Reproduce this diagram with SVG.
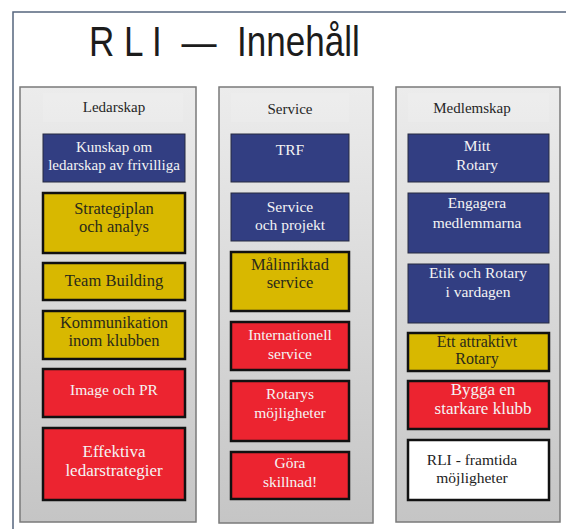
<svg xmlns="http://www.w3.org/2000/svg" width="566" height="529" viewBox="0 0 566 529">
<defs>
<linearGradient id="colg" x1="0" y1="0" x2="0" y2="1">
<stop offset="0" stop-color="#ececec"/>
<stop offset="1" stop-color="#c5c5c5"/>
</linearGradient>
<style>
.col{fill:url(#colg);stroke:#7a7a7a;stroke-width:1.5}
.hdr{fill:#f2f2f2;opacity:0.35}
.ct{font-family:"Liberation Serif","Times New Roman",serif;font-size:15px;fill:#262626;text-anchor:middle}
.blue{fill:#323e82;stroke:#262a40;stroke-width:1}
.yel{fill:#d8b800;stroke:#111;stroke-width:2.5}
.red{fill:#ec2430;stroke:#111;stroke-width:2.5}
.wht{fill:#ffffff;stroke:#111;stroke-width:2.5}
.t{font-family:"Liberation Serif","Times New Roman",serif;text-anchor:middle}
.tw{fill:#f4f4f4;font-size:15.5px}
.tk{fill:#2a2a1a;font-size:16.5px}
.tb{fill:#222;font-size:15.5px}
.title{font-family:"Liberation Sans",Arial,sans-serif;font-size:42px;fill:#1c1c1c}
</style>
</defs>
<rect x="13" y="12" width="570" height="530" fill="#ffffff" stroke="#56657e" stroke-width="1.5"/>
<text class="title" transform="translate(0,56) scale(0.835,1)"><tspan x="106.6" y="0">R L I</tspan><tspan x="217.4" y="0">—</tspan><tspan x="283.8" y="0">Innehåll</tspan></text>

<g id="col-ledarskap">
<rect class="col" x="20" y="87" width="176" height="435"/>
<rect class="hdr" x="43" y="93" width="140" height="29"/>
<text class="ct" x="114" y="112">Ledarskap</text>
</g>
<g id="col-service">
<rect class="col" x="219" y="87" width="154" height="436"/>
<rect class="hdr" x="231" y="93" width="118" height="29"/>
<text class="ct" x="290" y="114">Service</text>
</g>
<g id="col-medlemskap">
<rect class="col" x="396" y="87" width="164" height="435"/>
<rect class="hdr" x="408" y="93" width="141" height="29"/>
<text class="ct" x="472" y="113">Medlemskap</text>
</g>

<g id="connectors"></g>

<g id="n-kunskap">
<rect class="blue" x="43" y="134" width="142" height="48"/>
<text class="t tw" style="font-size:15px"><tspan x="114" y="152">Kunskap om</tspan><tspan x="114" y="170">ledarskap av frivilliga</tspan></text>
</g>
<g id="n-strategiplan">
<rect class="yel" x="43" y="193" width="142" height="60"/>
<text class="t tk"><tspan x="114" y="214">Strategiplan</tspan><tspan x="114" y="232">och analys</tspan></text>
</g>
<g id="n-team">
<rect class="yel" x="43" y="263" width="142" height="37"/>
<text class="t tk" x="114" y="286">Team Building</text>
</g>
<g id="n-kommunikation">
<rect class="yel" x="43" y="311" width="142" height="48"/>
<text class="t tk"><tspan x="114" y="328">Kommunikation</tspan><tspan x="114" y="346">inom klubben</tspan></text>
</g>
<g id="n-image">
<rect class="red" x="43" y="369" width="142" height="48"/>
<text class="t tw" x="114" y="395">Image och PR</text>
</g>
<g id="n-effektiva">
<rect class="red" x="43" y="428" width="142" height="72"/>
<text class="t tw" style="font-size:17px"><tspan x="114" y="457">Effektiva</tspan><tspan x="114" y="476">ledarstrategier</tspan></text>
</g>

<g id="n-trf">
<rect class="blue" x="231" y="134" width="118" height="48"/>
<text class="t tw" x="290" y="155">TRF</text>
</g>
<g id="n-serviceprojekt">
<rect class="blue" x="231" y="193" width="118" height="48"/>
<text class="t tw"><tspan x="290" y="212">Service</tspan><tspan x="290" y="230">och projekt</tspan></text>
</g>
<g id="n-malinriktad">
<rect class="yel" x="231" y="252" width="118" height="59"/>
<text class="t tk"><tspan x="290" y="270">Målinriktad</tspan><tspan x="290" y="288">service</tspan></text>
</g>
<g id="n-internationell">
<rect class="red" x="231" y="322" width="118" height="48"/>
<text class="t tw"><tspan x="290" y="340">Internationell</tspan><tspan x="290" y="359">service</tspan></text>
</g>
<g id="n-rotarys">
<rect class="red" x="231" y="381" width="118" height="60"/>
<text class="t tw"><tspan x="290" y="399">Rotarys</tspan><tspan x="290" y="418">möjligheter</tspan></text>
</g>
<g id="n-gora">
<rect class="red" x="231" y="452" width="118" height="47"/>
<text class="t tw"><tspan x="290" y="468">Göra</tspan><tspan x="290" y="487">skillnad!</tspan></text>
</g>

<g id="n-mitt">
<rect class="blue" x="408" y="134" width="141" height="48"/>
<text class="t tw"><tspan x="477" y="151">Mitt</tspan><tspan x="477" y="170">Rotary</tspan></text>
</g>
<g id="n-engagera">
<rect class="blue" x="408" y="193" width="141" height="60"/>
<text class="t tw"><tspan x="477" y="208">Engagera</tspan><tspan x="477" y="228">medlemmarna</tspan></text>
</g>
<g id="n-etik">
<rect class="blue" x="408" y="264" width="141" height="59"/>
<text class="t tw"><tspan x="478" y="278">Etik och Rotary</tspan><tspan x="478" y="297">i vardagen</tspan></text>
</g>
<g id="n-attraktivt">
<rect class="yel" x="408" y="333" width="141" height="38"/>
<text class="t tk" style="font-size:16px"><tspan x="477" y="347">Ett attraktivt</tspan><tspan x="477" y="364">Rotary</tspan></text>
</g>
<g id="n-bygga">
<rect class="red" x="408" y="381" width="141" height="48"/>
<text class="t tw" style="font-size:17px"><tspan x="483" y="395">Bygga en</tspan><tspan x="483" y="414">starkare klubb</tspan></text>
</g>
<g id="n-rli">
<rect class="wht" x="408" y="440" width="141" height="60"/>
<text class="t tb"><tspan x="472" y="465">RLI - framtida</tspan><tspan x="472" y="483">möjligheter</tspan></text>
</g>
</svg>
